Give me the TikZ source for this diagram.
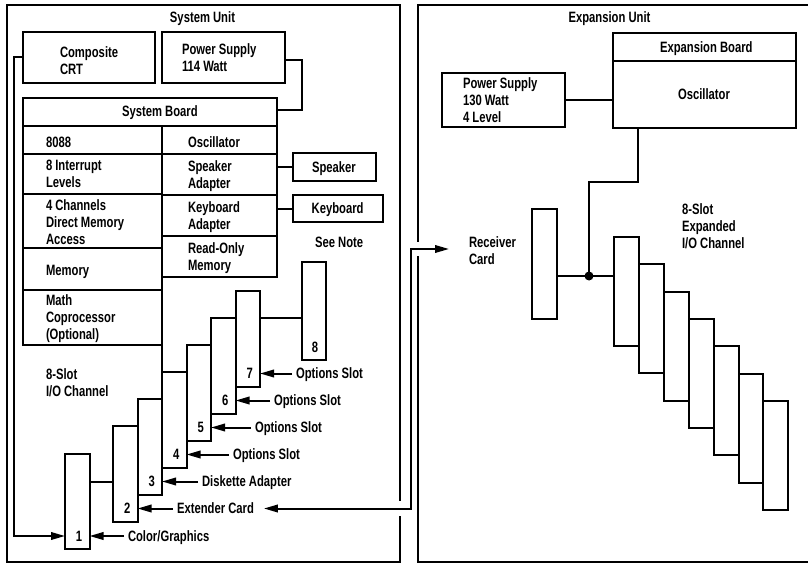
\documentclass[tikz,border=0pt]{standalone}
\usepackage{fontspec}
\setmainfont{Liberation Sans}[FakeStretch=0.75]
\usetikzlibrary{arrows.meta}
\newcommand\mybox[5]{\node[box,minimum width=#4pt,minimum height=#5pt] (#1) at (#2,#3) {};}
\begin{document}
\begin{tikzpicture}[x=1pt,y=-1pt,line width=2pt,
  box/.style={draw,rectangle,inner sep=0pt,outer sep=0pt,anchor=north west},
  txt/.style={font=\fontsize{15}{17}\selectfont\bfseries,inner sep=0pt,outer sep=0pt},
  lbl/.style={txt,text height=10.3pt,text depth=0pt,anchor=west},
  ml/.style={txt,align=left,anchor=base west},
  ctr/.style={txt,text height=10.3pt,text depth=0pt,anchor=center},
  arr/.style={-{Triangle[length=14pt,width=7.5pt]}},
  darr/.style={{Triangle[length=14pt,width=7.5pt]}-{Triangle[length=14pt,width=7.5pt]}},
]
\useasboundingbox (0,0) rectangle (808,564);
\fill[white] (0,0) rectangle (808,564);
\clip (0,0) rectangle (808,564);

% ---------------- System Unit ----------------
\mybox{sysunit}{7}{5}{393}{557}
\node[ctr] (sutitle) at (202.5,17) {System Unit};

\mybox{crt}{23}{32}{132}{51}
\node[ml] (crtt) at (60,74.1) {Composite\\CRT};
\mybox{ps114}{162}{32}{123}{51}
\node[ml] (ps114t) at (182,71.1) {Power Supply\\114 Watt};

\mybox{sbhead}{23}{98}{254}{28}
\node[lbl] (sbt) at (122,111) {System Board};

\mybox{c8088}{23}{126}{139}{28}
\mybox{cint}{23}{154}{139}{40}
\mybox{cdma}{23}{194}{139}{54}
\mybox{cmem}{23}{248}{139}{42}
\mybox{cmath}{23}{290}{139}{55}
\mybox{cosc}{162}{126}{115}{28}
\mybox{cspk}{162}{154}{115}{41}
\mybox{ckbd}{162}{195}{115}{41}
\mybox{crom}{162}{236}{115}{41}

\node[lbl] (t8088) at (46,142.5) {8088};
\node[ml] (tint) at (46,187.9) {8 Interrupt\\Levels};
\node[ml] (tdma) at (46,244.9) {4 Channels\\Direct Memory\\Access};
\node[lbl] (tmem) at (46,270) {Memory};
\node[ml] (tmath) at (46,339.6) {Math\\Coprocessor\\(Optional)};
\node[lbl] (tosc) at (188,142.5) {Oscillator};
\node[ml] (tspk) at (188,188.1) {Speaker\\Adapter};
\node[ml] (tkbd) at (188,229.6) {Keyboard\\Adapter};
\node[ml] (trom) at (188,270.1) {Read-Only\\Memory};

\mybox{speaker}{293}{153}{83}{28}
\node[lbl] (spkt) at (312,167.5) {Speaker};
\mybox{keyboard}{293}{195}{90}{27}
\node[lbl] (kbdt) at (311.7,208.5) {Keyboard};
\node[lbl] (note) at (315,242) {See Note};
\node[ml] (iot) at (46,396.1) {8-Slot\\I/O Channel};

% slots
\mybox{s1}{65}{454}{24.5}{95}
\foreach \k in {2,...,7} {
  \pgfmathsetmacro\sx{113+(\k-2)*24.5}
  \pgfmathsetmacro\sy{426-(\k-2)*27}
  \node[box,minimum width=24.5pt,minimum height=96pt] (s\k) at (\sx,\sy) {};
}
\mybox{s8}{302}{262}{24}{98}

\node[ctr] (n1) at (79,536) {1};
\node[ctr] (n2) at (127.3,508.5) {2};
\node[ctr] (n3) at (151.8,481.5) {3};
\node[ctr] (n4) at (176.3,454.5) {4};
\node[ctr] (n5) at (200.8,427.5) {5};
\node[ctr] (n6) at (225.3,400.5) {6};
\node[ctr] (n7) at (249.8,373.5) {7};
\node[ctr] (n8) at (315,347.5) {8};

\node[lbl] (l1) at (128,536) {Color/Graphics};
\node[lbl] (l2) at (177,508.5) {Extender Card};
\node[lbl] (l3) at (202,481.5) {Diskette Adapter};
\node[lbl] (l4) at (233,454.5) {Options Slot};
\node[lbl] (l5) at (255,427.5) {Options Slot};
\node[lbl] (l6) at (274,400.5) {Options Slot};
\node[lbl] (l7) at (296,373.5) {Options Slot};

\foreach \k in {1,...,7} {
  \draw[arr] ([xshift=-4pt]l\k.west) -- (s\k.east |- l\k.west);
}

% connectors inside system unit
\draw ([yshift=-2.5pt]ps114.east) -- ++(17,0) |- ([yshift=2pt]sbhead.east);
\draw[arr] (crt.west) -- ++(-9,0) |- (s1.west |- l1.west);
\draw (speaker.west) -- (speaker.west -| cspk.east);
\draw (keyboard.west) -- (keyboard.west -| ckbd.east);
\draw (cmath.south east) -- (s4.north west);
\draw (s1.east |- 0,482) -- (s2.west |- 0,482);
\draw (s7.east |- 0,318) -- (s8.west |- 0,318);

% ---------------- Expansion Unit ----------------
\mybox{expunit}{418}{5}{400}{557}
\node[ctr] (eutitle) at (609.5,17) {Expansion Unit};

\mybox{ebhead}{613}{33}{183}{28}
\mybox{eosc}{613}{61}{183}{67}
\node[lbl] (ebt) at (660,47) {Expansion Board};
\node[lbl] (eosct) at (678,94) {Oscillator};

\mybox{ps130}{442}{73}{123}{54}
\node[ml] (ps130t) at (463,122.3) {Power Supply\\130 Watt\\4 Level};
\draw (ps130.east) -- (ps130.east -| eosc.west);

\mybox{recv}{532}{209}{25}{110}
\node[ml] (rct) at (469,264.6) {Receiver\\Card};
\node[ml] (eiot) at (682,248.1) {8-Slot\\Expanded\\I/O Channel};

\foreach \k in {1,...,7} {
  \pgfmathsetmacro\sx{614+(\k-1)*24.9}
  \pgfmathsetmacro\sy{237+(\k-1)*27.3}
  \node[box,minimum width=24.9pt,minimum height=109pt] (e\k) at (\sx,\sy) {};
}

\node[circle,fill,inner sep=0pt,minimum size=9pt] (dot) at (589,276) {};
\draw ([xshift=25pt]eosc.south west) -- ++(0,54) -| (dot.center);
\draw (recv.east |- dot) -- (e1.west |- dot);

% ---------------- Extender cable ----------------
\draw[white,line width=3pt] (400,501) -- (400,516);
\draw[white,line width=3pt] (418,242) -- (418,256);
\coordinate (xa) at (411,508.5);
\coordinate (xb) at (411,249);
\coordinate (rcin) at (449,249);
\draw[darr] ([xshift=10pt]l2.east) -- (xa) -- (xb) -- (rcin);

\end{tikzpicture}
\end{document}
